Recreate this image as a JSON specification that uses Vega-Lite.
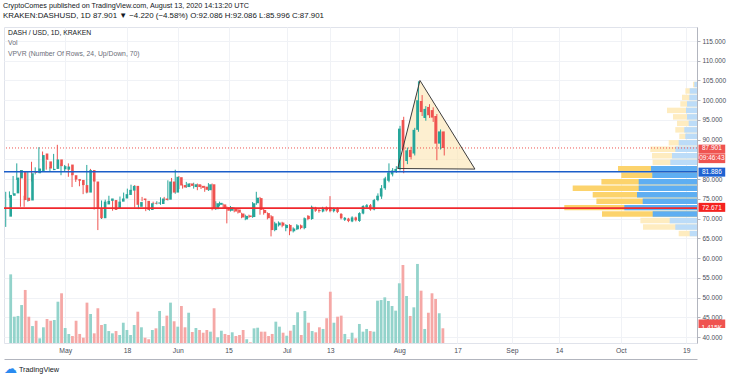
{
  "$schema": "https://vega.github.io/schema/vega-lite/v6.json",
  "width": 693,
  "height": 316,
  "autosize": "none",
  "padding": {"left": 4, "top": 27, "right": 39, "bottom": 37},
  "background": "white",
  "config": {"font": "Liberation Sans", "view": {"stroke": "#e0e3eb"}},
  "title": {
    "text": "CryptoComes published on TradingView.com, August 13, 2020 14:13:20 UTC",
    "subtitle": "KRAKEN:DASHUSD, 1D  87.901 \u25bc \u22124.220 (\u22124.58%)   O:92.086  H:92.086  L:85.996  C:87.901",
    "anchor": "start", "frame": "group", "offset": 7, "dx": -1,
    "font": "Liberation Sans", "fontSize": 7.2, "fontWeight": "normal", "color": "#131722",
    "subtitleFont": "Liberation Sans", "subtitleFontSize": 7.9, "subtitleColor": "#131722", "subtitlePadding": 2.5
  },
  "datasets": {
    "candles": [
      {"date":"2020-04-16","open":70.5,"high":76.8,"low":67.9,"close":76.0,"vol":6.6},
      {"date":"2020-04-17","open":75.8,"high":76.9,"low":75.3,"close":76.4,"vol":2.53},
      {"date":"2020-04-18","open":76.4,"high":80.8,"low":76.1,"close":80.4,"vol":2.6},
      {"date":"2020-04-19","open":80.2,"high":84.0,"low":79.8,"close":82.3,"vol":3.65},
      {"date":"2020-04-20","open":82.0,"high":82.3,"low":73.0,"close":74.7,"vol":5.1},
      {"date":"2020-04-21","open":75.3,"high":75.8,"low":73.0,"close":74.5,"vol":2.53},
      {"date":"2020-04-22","open":74.6,"high":82.0,"low":74.3,"close":81.5,"vol":1.63},
      {"date":"2020-04-23","open":82.0,"high":84.4,"low":79.4,"close":81.6,"vol":2.14},
      {"date":"2020-04-24","open":81.5,"high":83.0,"low":81.2,"close":82.7,"vol":0.45},
      {"date":"2020-04-25","open":82.0,"high":88.1,"low":81.6,"close":86.1,"vol":1.51},
      {"date":"2020-04-26","open":86.5,"high":87.0,"low":84.5,"close":84.9,"vol":2.31},
      {"date":"2020-04-27","open":84.5,"high":84.8,"low":82.4,"close":82.7,"vol":2.14},
      {"date":"2020-04-28","open":82.3,"high":83.1,"low":82.0,"close":82.6,"vol":2.21},
      {"date":"2020-04-29","open":82.6,"high":86.4,"low":82.3,"close":85.0,"vol":3.97},
      {"date":"2020-04-30","open":85.0,"high":88.7,"low":82.6,"close":83.3,"vol":4.78},
      {"date":"2020-05-01","open":82.5,"high":84.0,"low":81.0,"close":83.3,"vol":1.44},
      {"date":"2020-05-02","open":82.4,"high":83.6,"low":82.0,"close":83.2,"vol":0.87},
      {"date":"2020-05-03","open":83.7,"high":84.0,"low":80.6,"close":81.0,"vol":0.67},
      {"date":"2020-05-04","open":81.0,"high":81.3,"low":78.0,"close":79.9,"vol":2.14},
      {"date":"2020-05-05","open":80.0,"high":80.2,"low":79.3,"close":79.6,"vol":0.87},
      {"date":"2020-05-06","open":79.8,"high":80.0,"low":78.2,"close":78.5,"vol":0.51},
      {"date":"2020-05-07","open":78.5,"high":78.8,"low":76.2,"close":76.6,"vol":3.88},
      {"date":"2020-05-08","open":76.6,"high":83.6,"low":76.4,"close":82.3,"vol":2.79},
      {"date":"2020-05-09","open":82.3,"high":82.6,"low":79.1,"close":79.4,"vol":0.93},
      {"date":"2020-05-10","open":79.4,"high":79.6,"low":72.3,"close":72.6,"vol":3.34},
      {"date":"2020-05-11","open":72.6,"high":72.8,"low":67.1,"close":70.1,"vol":1.73},
      {"date":"2020-05-12","open":70.1,"high":74.6,"low":69.9,"close":74.3,"vol":1.83},
      {"date":"2020-05-13","open":73.6,"high":74.8,"low":73.4,"close":74.5,"vol":1.15},
      {"date":"2020-05-14","open":74.5,"high":75.8,"low":74.3,"close":75.1,"vol":0.93},
      {"date":"2020-05-15","open":74.7,"high":75.0,"low":72.0,"close":72.2,"vol":1.15},
      {"date":"2020-05-16","open":72.6,"high":74.6,"low":72.3,"close":74.3,"vol":0.77},
      {"date":"2020-05-17","open":74.3,"high":75.6,"low":74.0,"close":75.1,"vol":1.95},
      {"date":"2020-05-18","open":75.1,"high":76.6,"low":74.9,"close":76.2,"vol":1.25},
      {"date":"2020-05-19","open":76.0,"high":77.6,"low":75.8,"close":77.3,"vol":0.77},
      {"date":"2020-05-20","open":77.1,"high":78.6,"low":76.9,"close":78.3,"vol":1.73},
      {"date":"2020-05-21","open":78.3,"high":78.5,"low":72.8,"close":73.5,"vol":3.01},
      {"date":"2020-05-22","open":73.0,"high":74.4,"low":72.4,"close":74.2,"vol":1.51},
      {"date":"2020-05-23","open":75.1,"high":75.5,"low":74.4,"close":74.7,"vol":0.51},
      {"date":"2020-05-24","open":74.5,"high":74.8,"low":71.9,"close":72.2,"vol":0.36},
      {"date":"2020-05-25","open":72.2,"high":74.2,"low":72.0,"close":73.9,"vol":1.25},
      {"date":"2020-05-26","open":74.0,"high":74.3,"low":73.6,"close":73.8,"vol":1.41},
      {"date":"2020-05-27","open":73.8,"high":74.4,"low":73.6,"close":74.1,"vol":3.08},
      {"date":"2020-05-28","open":73.7,"high":75.4,"low":73.5,"close":75.1,"vol":1.63},
      {"date":"2020-05-29","open":75.1,"high":75.5,"low":74.5,"close":74.7,"vol":2.63},
      {"date":"2020-05-30","open":74.8,"high":79.7,"low":74.6,"close":79.4,"vol":3.88},
      {"date":"2020-05-31","open":79.4,"high":80.3,"low":76.3,"close":76.6,"vol":2.09},
      {"date":"2020-06-01","open":76.6,"high":82.4,"low":76.3,"close":80.6,"vol":1.57},
      {"date":"2020-06-02","open":80.5,"high":80.8,"low":77.5,"close":78.4,"vol":3.56},
      {"date":"2020-06-03","open":78.5,"high":78.7,"low":77.6,"close":77.9,"vol":1.51},
      {"date":"2020-06-04","open":78.0,"high":79.3,"low":77.8,"close":78.9,"vol":2.91},
      {"date":"2020-06-05","open":78.9,"high":79.0,"low":78.0,"close":78.3,"vol":1.06},
      {"date":"2020-06-06","open":78.0,"high":79.1,"low":77.6,"close":78.7,"vol":1.44},
      {"date":"2020-06-07","open":78.7,"high":78.9,"low":77.2,"close":78.0,"vol":1.25},
      {"date":"2020-06-08","open":78.3,"high":78.6,"low":77.5,"close":77.8,"vol":0.99},
      {"date":"2020-06-09","open":78.1,"high":78.3,"low":76.8,"close":77.3,"vol":1.25},
      {"date":"2020-06-10","open":77.2,"high":79.0,"low":77.0,"close":78.7,"vol":1.09},
      {"date":"2020-06-11","open":78.7,"high":78.9,"low":72.1,"close":72.4,"vol":3.34},
      {"date":"2020-06-12","open":72.4,"high":74.4,"low":72.2,"close":73.9,"vol":0.55},
      {"date":"2020-06-13","open":73.5,"high":74.3,"low":73.1,"close":74.0,"vol":1.18},
      {"date":"2020-06-14","open":73.6,"high":73.8,"low":72.5,"close":72.7,"vol":0.87},
      {"date":"2020-06-15","open":72.9,"high":73.1,"low":68.8,"close":72.0,"vol":0.77},
      {"date":"2020-06-16","open":72.0,"high":73.2,"low":71.8,"close":72.9,"vol":1.03},
      {"date":"2020-06-17","open":72.6,"high":72.8,"low":71.6,"close":71.8,"vol":0.67},
      {"date":"2020-06-18","open":72.3,"high":72.5,"low":71.3,"close":71.5,"vol":0.77},
      {"date":"2020-06-19","open":71.3,"high":71.5,"low":70.1,"close":70.3,"vol":1.25},
      {"date":"2020-06-20","open":69.8,"high":71.0,"low":69.6,"close":70.7,"vol":0.36},
      {"date":"2020-06-21","open":70.8,"high":71.0,"low":70.2,"close":70.4,"vol":0.07},
      {"date":"2020-06-22","open":70.4,"high":74.2,"low":70.2,"close":73.9,"vol":1.41},
      {"date":"2020-06-23","open":73.9,"high":76.8,"low":73.5,"close":75.3,"vol":1.47},
      {"date":"2020-06-24","open":75.2,"high":75.5,"low":71.0,"close":72.2,"vol":1.09},
      {"date":"2020-06-25","open":72.2,"high":72.5,"low":71.0,"close":71.4,"vol":1.09},
      {"date":"2020-06-26","open":71.4,"high":71.6,"low":69.8,"close":70.1,"vol":0.67},
      {"date":"2020-06-27","open":70.6,"high":70.9,"low":65.5,"close":67.1,"vol":0.87},
      {"date":"2020-06-28","open":67.1,"high":69.2,"low":66.8,"close":68.8,"vol":2.05},
      {"date":"2020-06-29","open":68.3,"high":69.3,"low":68.0,"close":69.0,"vol":1.57},
      {"date":"2020-06-30","open":69.0,"high":69.2,"low":67.8,"close":68.2,"vol":0.99},
      {"date":"2020-07-01","open":67.6,"high":68.6,"low":66.8,"close":68.4,"vol":0.70},
      {"date":"2020-07-02","open":68.4,"high":68.6,"low":65.8,"close":66.8,"vol":1.18},
      {"date":"2020-07-03","open":66.8,"high":67.8,"low":66.5,"close":67.5,"vol":1.73},
      {"date":"2020-07-04","open":67.3,"high":68.6,"low":67.1,"close":68.3,"vol":2.95},
      {"date":"2020-07-05","open":68.3,"high":68.5,"low":67.3,"close":67.6,"vol":0.77},
      {"date":"2020-07-06","open":67.6,"high":70.3,"low":67.3,"close":70.1,"vol":3.08},
      {"date":"2020-07-07","open":70.7,"high":70.9,"low":69.6,"close":69.9,"vol":1.95},
      {"date":"2020-07-08","open":69.9,"high":73.3,"low":69.7,"close":73.0,"vol":1.15},
      {"date":"2020-07-09","open":72.8,"high":73.0,"low":71.7,"close":72.0,"vol":1.03},
      {"date":"2020-07-10","open":72.2,"high":72.5,"low":71.5,"close":71.9,"vol":1.51},
      {"date":"2020-07-11","open":71.8,"high":73.0,"low":71.6,"close":72.7,"vol":1.35},
      {"date":"2020-07-12","open":72.8,"high":73.1,"low":71.8,"close":72.1,"vol":2.38},
      {"date":"2020-07-13","open":72.9,"high":75.7,"low":71.6,"close":71.9,"vol":4.93},
      {"date":"2020-07-14","open":71.9,"high":72.8,"low":71.6,"close":72.5,"vol":1.95},
      {"date":"2020-07-15","open":72.5,"high":72.8,"low":71.4,"close":71.7,"vol":2.53},
      {"date":"2020-07-16","open":71.2,"high":71.4,"low":69.8,"close":70.1,"vol":2.63},
      {"date":"2020-07-17","open":69.7,"high":70.4,"low":69.4,"close":70.2,"vol":0.87},
      {"date":"2020-07-18","open":70.0,"high":70.2,"low":69.1,"close":69.4,"vol":0.36},
      {"date":"2020-07-19","open":69.3,"high":70.6,"low":69.1,"close":70.3,"vol":0.99},
      {"date":"2020-07-20","open":70.3,"high":70.5,"low":69.3,"close":69.6,"vol":0.45},
      {"date":"2020-07-21","open":69.4,"high":71.6,"low":69.2,"close":71.4,"vol":1.83},
      {"date":"2020-07-22","open":71.3,"high":73.4,"low":71.1,"close":73.2,"vol":1.09},
      {"date":"2020-07-23","open":72.9,"high":73.7,"low":72.7,"close":73.4,"vol":1.35},
      {"date":"2020-07-24","open":73.4,"high":73.7,"low":72.0,"close":72.3,"vol":1.15},
      {"date":"2020-07-25","open":72.3,"high":75.0,"low":72.1,"close":74.7,"vol":1.09},
      {"date":"2020-07-26","open":74.7,"high":76.4,"low":74.4,"close":75.8,"vol":4.07},
      {"date":"2020-07-27","open":75.6,"high":78.5,"low":75.0,"close":77.7,"vol":4.13},
      {"date":"2020-07-28","open":77.7,"high":80.6,"low":77.3,"close":80.2,"vol":4.39},
      {"date":"2020-07-29","open":79.6,"high":84.0,"low":79.2,"close":81.7,"vol":4.04},
      {"date":"2020-07-30","open":81.2,"high":82.8,"low":80.7,"close":82.2,"vol":3.56},
      {"date":"2020-07-31","open":81.9,"high":83.3,"low":81.6,"close":82.6,"vol":3.11},
      {"date":"2020-08-01","open":82.6,"high":93.5,"low":82.2,"close":92.8,"vol":5.74},
      {"date":"2020-08-02","open":95.0,"high":95.8,"low":81.5,"close":87.5,"vol":7.5},
      {"date":"2020-08-03","open":84.6,"high":88.0,"low":83.8,"close":87.3,"vol":4.52},
      {"date":"2020-08-04","open":87.4,"high":88.2,"low":85.0,"close":85.6,"vol":2.6},
      {"date":"2020-08-05","open":86.5,"high":93.0,"low":86.0,"close":92.5,"vol":3.43},
      {"date":"2020-08-06","open":92.5,"high":104.8,"low":92.0,"close":100.0,"vol":7.6},
      {"date":"2020-08-07","open":99.8,"high":101.3,"low":96.0,"close":97.0,"vol":5.03},
      {"date":"2020-08-08","open":95.5,"high":98.5,"low":94.8,"close":97.8,"vol":1.35},
      {"date":"2020-08-09","open":98.3,"high":99.0,"low":95.5,"close":96.2,"vol":2.91},
      {"date":"2020-08-10","open":97.5,"high":98.2,"low":94.5,"close":95.6,"vol":4.78},
      {"date":"2020-08-11","open":96.0,"high":96.5,"low":84.8,"close":89.0,"vol":4.23},
      {"date":"2020-08-12","open":89.0,"high":92.6,"low":87.5,"close":92.1,"vol":2.86},
      {"date":"2020-08-13","open":92.086,"high":92.086,"low":85.996,"close":87.901,"vol":1.415}
    ],
    "vpvr": [
      {"lo":65.40,"hi":67.04,"up":7.3,"total":18.3,"va":false},
      {"lo":67.04,"hi":68.68,"up":21.7,"total":54.0,"va":false},
      {"lo":68.68,"hi":70.33,"up":27.3,"total":56.6,"va":false},
      {"lo":70.33,"hi":71.97,"up":44.3,"total":95.0,"va":true},
      {"lo":71.97,"hi":73.61,"up":72.7,"total":132.7,"va":true},
      {"lo":73.61,"hi":75.25,"up":54.3,"total":100.6,"va":true},
      {"lo":75.25,"hi":76.89,"up":60.0,"total":104.3,"va":true},
      {"lo":76.89,"hi":78.54,"up":58.3,"total":124.3,"va":true},
      {"lo":78.54,"hi":80.18,"up":58.3,"total":95.6,"va":true},
      {"lo":80.18,"hi":81.82,"up":44.7,"total":75.7,"va":true},
      {"lo":81.82,"hi":83.46,"up":46.0,"total":79.0,"va":true},
      {"lo":83.46,"hi":85.10,"up":26.7,"total":44.4,"va":false},
      {"lo":85.10,"hi":86.75,"up":25.0,"total":45.0,"va":false},
      {"lo":86.75,"hi":88.39,"up":21.7,"total":46.7,"va":false},
      {"lo":88.39,"hi":90.03,"up":18.3,"total":28.3,"va":false},
      {"lo":90.03,"hi":91.67,"up":11.7,"total":17.7,"va":false},
      {"lo":91.67,"hi":93.31,"up":12.7,"total":21.7,"va":false},
      {"lo":93.31,"hi":94.96,"up":8.3,"total":20.0,"va":false},
      {"lo":94.96,"hi":96.60,"up":10.0,"total":24.0,"va":false},
      {"lo":96.60,"hi":98.24,"up":11.0,"total":30.0,"va":false},
      {"lo":98.24,"hi":99.88,"up":10.0,"total":16.7,"va":false},
      {"lo":99.88,"hi":101.52,"up":7.7,"total":15.0,"va":false},
      {"lo":101.52,"hi":103.16,"up":7.3,"total":11.6,"va":false},
      {"lo":103.16,"hi":104.80,"up":2.7,"total":4.0,"va":false}
    ],
    "triangle": [
      {"t":"2020-07-31T09:00:00Z","top":82.7,"base":82.7},
      {"t":"2020-08-06T10:00:00Z","top":105.0,"base":82.65},
      {"t":"2020-08-21T08:00:00Z","top":82.55,"base":82.55}
    ],
    "outline": [
      {"t":"2020-07-31T09:00:00Z","p":82.7,"ord":1},
      {"t":"2020-08-06T10:00:00Z","p":105.0,"ord":2},
      {"t":"2020-08-21T08:00:00Z","p":82.55,"ord":3},
      {"t":"2020-07-31T09:00:00Z","p":82.7,"ord":4}
    ],
    "tags": [
      {"price":87.901,"label":"87.901","kind":"last"},
      {"price":81.886,"label":"81.886","kind":"blue"},
      {"price":72.671,"label":"72.671","kind":"red"}
    ],
    "one": [{}]
  },
  "resolve": {"scale": {"x": "independent", "y": "independent", "color": "independent"}, "axis": {"x": "independent", "y": "independent"}},
  "layer": [
    {
      "data": {"name": "candles"},
      "mark": {"type": "bar", "size": 2.8},
      "encoding": {
        "x": {"field": "date", "type": "temporal",
          "scale": {"type": "utc", "domain": [{"year":2020,"month":4,"date":15,"hours":12,"minutes":46,"utc":true},{"year":2020,"month":10,"date":20,"hours":14,"minutes":10,"utc":true}]},
          "axis": {"values": [{"year":2020,"month":5,"date":1,"utc":true},{"year":2020,"month":5,"date":18,"utc":true},{"year":2020,"month":6,"date":1,"utc":true},{"year":2020,"month":6,"date":15,"utc":true},{"year":2020,"month":7,"date":1,"utc":true},{"year":2020,"month":7,"date":13,"utc":true},{"year":2020,"month":8,"date":1,"utc":true},{"year":2020,"month":8,"date":17,"utc":true},{"year":2020,"month":9,"date":1,"utc":true},{"year":2020,"month":9,"date":14,"utc":true},{"year":2020,"month":10,"date":1,"utc":true},{"year":2020,"month":10,"date":19,"utc":true}],
            "labelExpr": "utcdate(datum.value) === 1 ? utcFormat(datum.value, '%b') : utcFormat(datum.value, '%-d')",
            "title": null, "grid": true, "gridColor": "#f0f2f6", "domainColor": "#b2b5be", "ticks": false,
            "offset": 16, "labelPadding": -12, "labelFontSize": 6.8, "labelColor": "#4a4e59", "labelFont": "Liberation Sans",
            "labelOverlap": false, "labelFlush": false, "zindex": 0}},
        "y": {"field": "vol", "type": "quantitative", "scale": {"domain": [0, 30.38], "nice": false}, "axis": null},
        "color": {"condition": {"test": "datum.close >= datum.open", "value": "#93d3cb"}, "value": "#f5a8a6"}
      }
    },
    {
      "data": {"name": "vpvr"},
      "mark": {"type": "rect", "yOffset": -0.5, "y2Offset": 0.5},
      "encoding": {
        "x": {"field": "total", "type": "quantitative", "scale": {"domain": [0, 693], "reverse": true, "nice": false}, "axis": null},
        "x2": {"datum": 0},
        "y": {"field": "lo", "type": "quantitative", "scale": {"domain": [38.49, 118.55], "nice": false, "zero": false}, "axis": null},
        "y2": {"field": "hi"},
        "color": {"condition": {"test": "datum.va", "value": "#fcd36c"}, "value": "#feecc0"}
      }
    },
    {
      "data": {"name": "vpvr"},
      "mark": {"type": "rect", "yOffset": -0.5, "y2Offset": 0.5},
      "encoding": {
        "x": {"field": "up", "type": "quantitative", "scale": {"domain": [0, 693], "reverse": true, "nice": false}, "axis": null},
        "x2": {"datum": 0},
        "y": {"field": "lo", "type": "quantitative", "scale": {"domain": [38.49, 118.55], "nice": false, "zero": false}, "axis": null},
        "y2": {"field": "hi"},
        "color": {"condition": {"test": "datum.va", "value": "#5eaef2"}, "value": "#bcdcf8"}
      }
    },
    {
      "data": {"name": "triangle"},
      "mark": {"type": "area", "color": "#fbe4b0", "opacity": 0.6},
      "encoding": {
        "x": {"field": "t", "type": "temporal", "scale": {"type": "utc", "domain": [{"year":2020,"month":4,"date":15,"hours":12,"minutes":46,"utc":true},{"year":2020,"month":10,"date":20,"hours":14,"minutes":10,"utc":true}]}, "axis": null},
        "y": {"field": "top", "type": "quantitative", "scale": {"domain": [38.49, 118.55], "nice": false, "zero": false}, "axis": null},
        "y2": {"field": "base"}
      }
    },
    {
      "data": {"name": "one"},
      "mark": {"type": "rule", "color": "#ef5350", "strokeWidth": 1, "strokeDash": [1, 2]},
      "encoding": {"y": {"datum": 87.901, "scale": {"domain": [38.49, 118.55], "nice": false, "zero": false}, "axis": null}}
    },
    {
      "data": {"name": "candles"},
      "mark": {"type": "rule", "strokeWidth": 1},
      "encoding": {
        "x": {"field": "date", "type": "temporal", "scale": {"type": "utc", "domain": [{"year":2020,"month":4,"date":15,"hours":12,"minutes":46,"utc":true},{"year":2020,"month":10,"date":20,"hours":14,"minutes":10,"utc":true}]}, "axis": null},
        "y": {"field": "low", "type": "quantitative", "scale": {"domain": [38.49, 118.55], "nice": false, "zero": false},
          "axis": {"orient": "right", "values": [40,45,50,55,60,65,70,75,80,85,90,95,100,105,110,115],
            "labelExpr": "datum.value === 85 ? '' : format(datum.value, '.3f')", "title": null,
            "grid": true, "gridColor": "#f0f2f6", "domainColor": "#b2b5be", "tickColor": "#b2b5be", "tickSize": 3,
            "labelPadding": 2, "labelFontSize": 6.5, "labelColor": "#4a4e59", "labelFont": "Liberation Sans", "labelOverlap": false, "labelFlush": false, "zindex": 0}},
        "y2": {"field": "high"},
        "color": {"condition": {"test": "datum.close >= datum.open", "value": "#26a69a"}, "value": "#ef5350"}
      }
    },
    {
      "data": {"name": "candles"},
      "mark": {"type": "bar", "size": 2.6},
      "encoding": {
        "x": {"field": "date", "type": "temporal", "scale": {"type": "utc", "domain": [{"year":2020,"month":4,"date":15,"hours":12,"minutes":46,"utc":true},{"year":2020,"month":10,"date":20,"hours":14,"minutes":10,"utc":true}]}, "axis": null},
        "y": {"field": "open", "type": "quantitative", "scale": {"domain": [38.49, 118.55], "nice": false, "zero": false}, "axis": null},
        "y2": {"field": "close"},
        "color": {"condition": {"test": "datum.close >= datum.open", "value": "#26a69a"}, "value": "#ef5350"}
      }
    },
    {
      "data": {"name": "outline"},
      "mark": {"type": "line", "color": "#3d3d3d", "strokeWidth": 1},
      "encoding": {
        "x": {"field": "t", "type": "temporal", "scale": {"type": "utc", "domain": [{"year":2020,"month":4,"date":15,"hours":12,"minutes":46,"utc":true},{"year":2020,"month":10,"date":20,"hours":14,"minutes":10,"utc":true}]}, "axis": null},
        "y": {"field": "p", "type": "quantitative", "scale": {"domain": [38.49, 118.55], "nice": false, "zero": false}, "axis": null},
        "order": {"field": "ord"}
      }
    },
    {
      "data": {"name": "one"},
      "mark": {"type": "rule", "color": "#1c5ec9", "strokeWidth": 1.6},
      "encoding": {"y": {"datum": 81.886, "scale": {"domain": [38.49, 118.55], "nice": false, "zero": false}, "axis": null}}
    },
    {
      "data": {"name": "one"},
      "mark": {"type": "rule", "color": "#f0282d", "strokeWidth": 1.6},
      "encoding": {"y": {"datum": 72.671, "scale": {"domain": [38.49, 118.55], "nice": false, "zero": false}, "axis": null}}
    },
    {
      "data": {"name": "tags"},
      "mark": {"type": "bar", "size": 9, "orient": "horizontal"},
      "encoding": {
        "x": {"datum": {"year":2020,"month":10,"date":21,"utc":true}, "type": "temporal", "scale": {"type": "utc", "domain": [{"year":2020,"month":4,"date":15,"hours":12,"minutes":46,"utc":true},{"year":2020,"month":10,"date":20,"hours":14,"minutes":10,"utc":true}]}, "axis": null},
        "x2": {"datum": {"year":2020,"month":10,"date":28,"hours":6,"utc":true}},
        "y": {"field": "price", "type": "quantitative", "scale": {"domain": [38.49, 118.55], "nice": false, "zero": false}, "axis": null},
        "color": {"field": "kind", "type": "nominal", "scale": {"domain": ["last", "blue", "red"], "range": ["#ef5350", "#1f62d2", "#f5221f"]}, "legend": null}
      }
    },
    {
      "data": {"name": "tags"},
      "mark": {"type": "text", "color": "white", "fontSize": 6.5, "align": "center", "baseline": "middle", "font": "Liberation Sans"},
      "encoding": {
        "x": {"datum": {"year":2020,"month":10,"date":24,"hours":15,"utc":true}, "type": "temporal", "scale": {"type": "utc", "domain": [{"year":2020,"month":4,"date":15,"hours":12,"minutes":46,"utc":true},{"year":2020,"month":10,"date":20,"hours":14,"minutes":10,"utc":true}]}, "axis": null},
        "y": {"field": "price", "type": "quantitative", "scale": {"domain": [38.49, 118.55], "nice": false, "zero": false}, "axis": null},
        "text": {"field": "label"}
      }
    },
    {
      "data": {"name": "one"},
      "mark": {"type": "bar", "size": 9, "orient": "horizontal", "color": "#ef5350"},
      "encoding": {
        "x": {"datum": {"year":2020,"month":10,"date":21,"utc":true}, "type": "temporal", "scale": {"type": "utc", "domain": [{"year":2020,"month":4,"date":15,"hours":12,"minutes":46,"utc":true},{"year":2020,"month":10,"date":20,"hours":14,"minutes":10,"utc":true}]}, "axis": null},
        "x2": {"datum": {"year":2020,"month":10,"date":28,"hours":6,"utc":true}},
        "y": {"datum": 85.42, "type": "quantitative", "scale": {"domain": [38.49, 118.55], "nice": false, "zero": false}, "axis": null}
      }
    },
    {
      "data": {"name": "one"},
      "mark": {"type": "text", "color": "white", "fontSize": 6.5, "align": "center", "baseline": "middle", "font": "Liberation Sans", "text": "09:46:43"},
      "encoding": {
        "x": {"datum": {"year":2020,"month":10,"date":24,"hours":15,"utc":true}, "type": "temporal", "scale": {"type": "utc", "domain": [{"year":2020,"month":4,"date":15,"hours":12,"minutes":46,"utc":true},{"year":2020,"month":10,"date":20,"hours":14,"minutes":10,"utc":true}]}, "axis": null},
        "y": {"datum": 85.42, "type": "quantitative", "scale": {"domain": [38.49, 118.55], "nice": false, "zero": false}, "axis": null}
      }
    },
    {
      "data": {"name": "one"},
      "mark": {"type": "bar", "size": 8.5, "orient": "horizontal", "color": "#ef5350"},
      "encoding": {
        "x": {"datum": {"year":2020,"month":10,"date":21,"utc":true}, "type": "temporal", "scale": {"type": "utc", "domain": [{"year":2020,"month":4,"date":15,"hours":12,"minutes":46,"utc":true},{"year":2020,"month":10,"date":20,"hours":14,"minutes":10,"utc":true}]}, "axis": null},
        "x2": {"datum": {"year":2020,"month":10,"date":28,"hours":6,"utc":true}},
        "y": {"datum": 1.415, "type": "quantitative", "scale": {"domain": [0, 30.38], "nice": false}, "axis": null}
      }
    },
    {
      "data": {"name": "one"},
      "mark": {"type": "text", "color": "white", "fontSize": 6.5, "align": "center", "baseline": "middle", "font": "Liberation Sans", "text": "1.415K"},
      "encoding": {
        "x": {"datum": {"year":2020,"month":10,"date":24,"hours":15,"utc":true}, "type": "temporal", "scale": {"type": "utc", "domain": [{"year":2020,"month":4,"date":15,"hours":12,"minutes":46,"utc":true},{"year":2020,"month":10,"date":20,"hours":14,"minutes":10,"utc":true}]}, "axis": null},
        "y": {"datum": 1.415, "type": "quantitative", "scale": {"domain": [0, 30.38], "nice": false}, "axis": null}
      }
    },
    {
      "data": {"name": "one"},
      "mark": {"type": "text", "color": "#131722", "fontSize": 6.8, "align": "left", "baseline": "middle", "font": "Liberation Sans", "text": "DASH / USD, 1D, KRAKEN"},
      "encoding": {
        "x": {"datum": {"year":2020,"month":4,"date":16,"hours":15,"utc":true}, "type": "temporal", "scale": {"type": "utc", "domain": [{"year":2020,"month":4,"date":15,"hours":12,"minutes":46,"utc":true},{"year":2020,"month":10,"date":20,"hours":14,"minutes":10,"utc":true}]}, "axis": null},
        "y": {"datum": 117.0, "type": "quantitative", "scale": {"domain": [38.49, 118.55], "nice": false, "zero": false}, "axis": null}
      }
    },
    {
      "data": {"name": "one"},
      "mark": {"type": "text", "color": "#6a6d78", "fontSize": 6.8, "align": "left", "baseline": "middle", "font": "Liberation Sans", "text": "Vol"},
      "encoding": {
        "x": {"datum": {"year":2020,"month":4,"date":16,"hours":15,"utc":true}, "type": "temporal", "scale": {"type": "utc", "domain": [{"year":2020,"month":4,"date":15,"hours":12,"minutes":46,"utc":true},{"year":2020,"month":10,"date":20,"hours":14,"minutes":10,"utc":true}]}, "axis": null},
        "y": {"datum": 114.37, "type": "quantitative", "scale": {"domain": [38.49, 118.55], "nice": false, "zero": false}, "axis": null}
      }
    },
    {
      "data": {"name": "one"},
      "mark": {"type": "text", "color": "#6a6d78", "fontSize": 6.8, "align": "left", "baseline": "middle", "font": "Liberation Sans", "text": "VPVR (Number Of Rows, 24, Up/Down, 70)"},
      "encoding": {
        "x": {"datum": {"year":2020,"month":4,"date":16,"hours":15,"utc":true}, "type": "temporal", "scale": {"type": "utc", "domain": [{"year":2020,"month":4,"date":15,"hours":12,"minutes":46,"utc":true},{"year":2020,"month":10,"date":20,"hours":14,"minutes":10,"utc":true}]}, "axis": null},
        "y": {"datum": 111.71, "type": "quantitative", "scale": {"domain": [38.49, 118.55], "nice": false, "zero": false}, "axis": null}
      }
    },
    {
      "data": {"name": "one"},
      "mark": {"type": "text", "color": "#131722", "fontSize": 7.3, "align": "left", "baseline": "middle", "font": "Liberation Sans", "text": "TradingView"},
      "encoding": {
        "x": {"datum": {"year":2020,"month":4,"date":19,"hours":14,"utc":true}, "type": "temporal", "scale": {"type": "utc", "domain": [{"year":2020,"month":4,"date":15,"hours":12,"minutes":46,"utc":true},{"year":2020,"month":10,"date":20,"hours":14,"minutes":10,"utc":true}]}, "axis": null},
        "y": {"datum": 31.65, "type": "quantitative", "scale": {"domain": [38.49, 118.55], "nice": false, "zero": false}, "axis": null}
      }
    },
    {
      "data": {"name": "one"},
      "mark": {"type": "text", "color": "#2a8af0", "fontSize": 13, "align": "left", "baseline": "middle", "font": "DejaVu Sans", "text": "\u2601"},
      "encoding": {
        "x": {"datum": {"year":2020,"month":4,"date":15,"hours":12,"minutes":46,"utc":true}, "type": "temporal", "scale": {"type": "utc", "domain": [{"year":2020,"month":4,"date":15,"hours":12,"minutes":46,"utc":true},{"year":2020,"month":10,"date":20,"hours":14,"minutes":10,"utc":true}]}, "axis": null},
        "y": {"datum": 32.0, "type": "quantitative", "scale": {"domain": [38.49, 118.55], "nice": false, "zero": false}, "axis": null}
      }
    }
  ]
}
